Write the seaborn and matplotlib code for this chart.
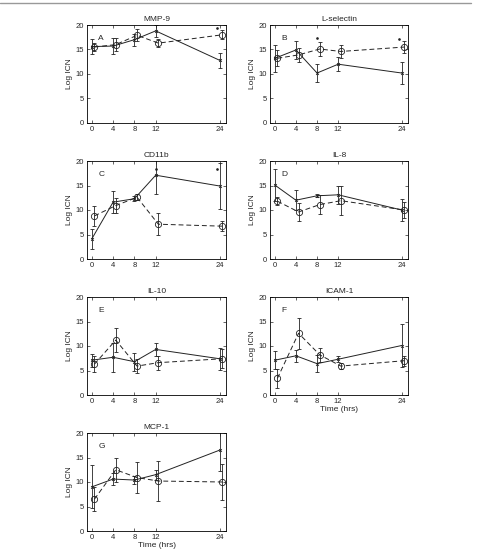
import matplotlib
matplotlib.use('Agg')
from matplotlib import pyplot as plt
from matplotlib.lines import Line2D
import seaborn as sns
import pandas as pd

times = [0, 4, 8, 12, 24]
offset = 0.5
titles = ['MMP-9', 'L-selectin', 'CD11b', 'IL-8', 'IL-10', 'ICAM-1', 'MCP-1']
letters = ['A', 'B', 'C', 'D', 'E', 'F', 'G']

# solid series (x markers) mean and error half-width
solid_mean = [
    [15.6, 15.7, 17.0, 18.8, 12.8],
    [13.2, 14.9, 10.2, 12.0, 10.2],
    [4.1, 11.6, 12.3, 17.1, 14.9],
    [15.1, 12.0, 12.9, 13.1, 10.0],
    [7.1, 7.7, 6.8, 9.3, 7.4],
    [7.1, 8.0, 6.4, 7.3, 10.1],
    [9.0, 10.6, 10.4, 11.5, 16.5],
]
solid_err = [
    [1.5, 1.6, 1.2, 1.2, 1.5],
    [2.8, 1.8, 1.9, 1.4, 2.2],
    [2.0, 2.2, 0.5, 3.9, 4.6],
    [3.2, 2.0, 0.3, 1.9, 2.3],
    [1.3, 3.0, 1.8, 1.3, 2.2],
    [1.8, 1.2, 1.8, 0.6, 4.3],
    [4.4, 1.2, 0.9, 1.0, 4.2],
]
# dashed series (circle markers)
dash_mean = [
    [15.5, 16.0, 17.9, 16.3, 18.0],
    [13.2, 13.9, 15.1, 14.6, 15.5],
    [8.8, 10.9, 12.6, 7.1, 6.7],
    [11.8, 9.6, 11.1, 11.9, 10.0],
    [6.3, 11.2, 5.9, 6.6, 7.4],
    [3.4, 12.6, 8.2, 5.9, 7.0],
    [6.5, 12.5, 10.9, 10.2, 10.0],
]
dash_err = [
    [0.8, 1.3, 1.2, 0.8, 0.9],
    [1.6, 1.4, 1.4, 1.3, 1.2],
    [2.1, 1.5, 0.6, 2.2, 1.0],
    [0.8, 1.9, 2.0, 2.9, 1.7],
    [1.7, 2.5, 1.4, 1.4, 1.9],
    [2.0, 3.2, 1.4, 0.6, 1.0],
    [2.4, 2.4, 3.1, 4.0, 3.6],
]
# significance asterisks (panel index, x, y)
star_panel = [0, 1, 1, 2, 2]
star_x = [23.5, 8, 23.5, 12, 23.5]
star_y = [19.3, 17.3, 17.2, 18.4, 18.3]

sns.set_style('ticks')
plt.rcParams['font.family'] = ['Liberation Sans', 'DejaVu Sans']

W, H = 478, 551
fig = plt.figure(figsize=(W / 100, H / 100), dpi=100)

lefts = [87, 270]
widths = [139, 138]
tops = [25, 161, 297, 433]
ax_h = 98
ink = '#222222'

for i, name in enumerate(titles):
    r, c = divmod(i, 2)
    ax = fig.add_axes([lefts[c] / W, 1 - (tops[r] + ax_h) / H, widths[c] / W, ax_h / H])
    df = pd.DataFrame({
        't': times + [t + offset for t in times],
        'v': solid_mean[i] + dash_mean[i],
        'e': solid_err[i] + dash_err[i],
        'grp': ['s'] * 5 + ['d'] * 5,
    })
    s = df[df.grp == 's']
    d = df[df.grp == 'd']
    ax.errorbar(s.t, s.v, yerr=s.e, fmt='none', ecolor=ink, elinewidth=0.6, capsize=1.5, capthick=0.6)
    ax.errorbar(d.t, d.v, yerr=d.e, fmt='none', ecolor=ink, elinewidth=0.6, capsize=1.5, capthick=0.6)
    sns.lineplot(data=s, x='t', y='v', ax=ax, color=ink, lw=0.7, marker='x', markersize=2,
                 markeredgewidth=0.6, markeredgecolor=ink)
    sns.lineplot(data=d, x='t', y='v', ax=ax, color=ink, lw=0.7, marker='o', markersize=4.5,
                 markerfacecolor='none', markeredgecolor=ink, markeredgewidth=0.6,
                 linestyle=(0, (5, 3)))
    for p, sx, sy in zip(star_panel, star_x, star_y):
        if p == i:
            ax.plot([sx], [sy], marker='.', color=ink, markersize=1.8)
    ax.set_xlim(-0.9, 25.2)
    ax.set_ylim(0, 20)
    ax.set_xticks(times)
    ax.set_yticks([0, 5, 10, 15, 20])
    ax.tick_params(direction='in', length=2, width=0.5, labelsize=5.5, pad=2,
                   top=True, right=True)
    for sp in ax.spines.values():
        sp.set_linewidth(0.6)
        sp.set_color('black')
    ax.set_title(name, fontsize=6, pad=3)
    ax.set_ylabel('Log ICN', fontsize=6, labelpad=2)
    if i in (5, 6):
        ax.set_xlabel('Time (hrs)', fontsize=6, labelpad=1)
    else:
        ax.set_xlabel('')
    ax.text(1.2, 17, letters[i], fontsize=6)

fig.add_artist(Line2D([0.0, 0.985], [1 - 2.5 / H, 1 - 2.5 / H], color='#999999', lw=1.0))

fig.savefig('out.png', dpi=100)
